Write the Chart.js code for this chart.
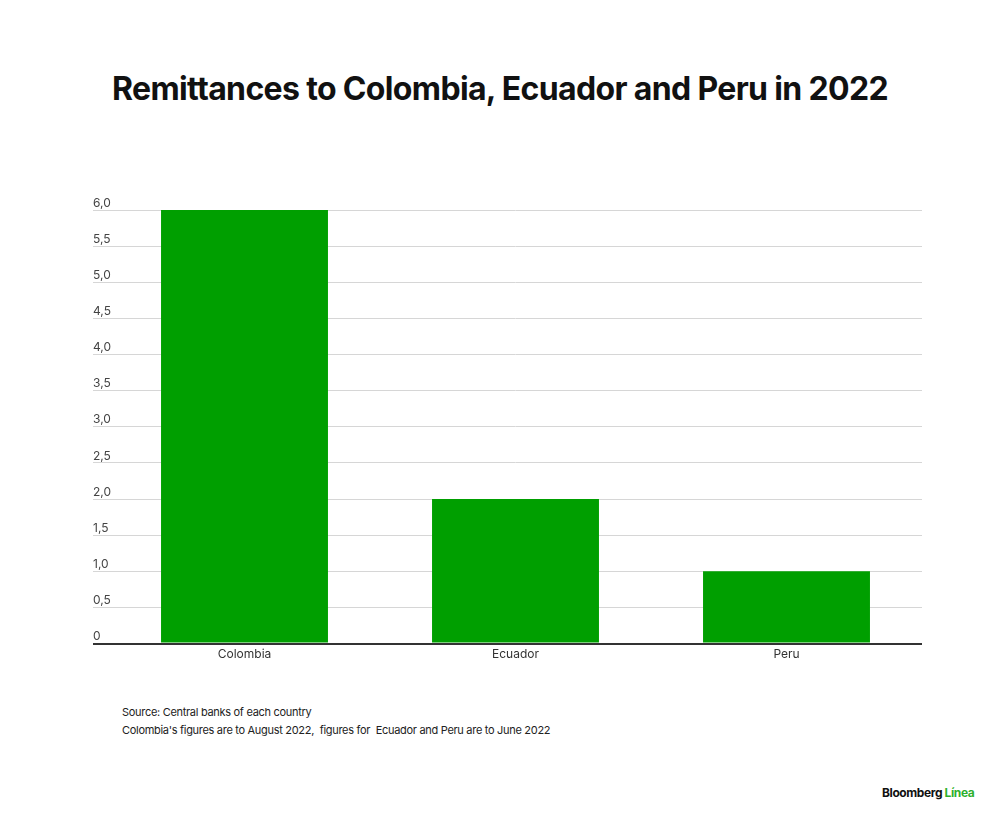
<!DOCTYPE html>
<html>
<head>
<meta charset="utf-8">
<script src="https://cdn.jsdelivr.net/npm/chart.js@4.4.1/dist/chart.umd.min.js"></script>
<style>
    html, body { margin: 0; padding: 0; background: #fff; }
    body { width: 1000px; height: 821px; position: relative; overflow: hidden; font-family: Inter, "Liberation Sans", sans-serif; }
    #titulo {
        position: absolute; left: 0; top: 69px; width: 1000px; text-align: center;
        font-size: 32px; font-weight: 700; color: #111; letter-spacing: -0.65px;
    }
    #caja { position: absolute; left: 0; top: 180px; width: 1000px; height: 500px; }
    #fuente {
        position: absolute; left: 122px; top: 703px; font-size: 11px; line-height: 18px;
        color: #222; letter-spacing: -0.3px;
    }
    #logo {
        position: absolute; left: 882px; top: 785px; font-size: 12px; font-weight: 700;
        color: #111; letter-spacing: -0.4px;
    }
    #logo span { color: #2db02d; }
</style>
</head>
<body>
<div id="titulo">Remittances to Colombia, Ecuador and Peru in 2022</div>
<div id="caja"><canvas id="graficaRemesas"></canvas></div>
<div id="fuente">
    Source: Central banks of each country<br>
    Colombia's figures are to August 2022,&nbsp; figures for&nbsp; Ecuador and Peru are to June 2022
</div>
<div id="logo">Bloomberg <span>Línea</span></div>

<script>
// ==============================
// DATOS
// ==============================
const paises = ['Colombia', 'Ecuador', 'Peru'];
const remesas = [6.0, 2.0, 1.0];
const etiquetasY = ['0', '0,5', '1,0', '1,5', '2,0', '2,5', '3,0', '3,5', '4,0', '4,5', '5,0', '5,5', '6,0'];

const ctx = document.getElementById('graficaRemesas').getContext('2d');

new Chart(ctx, {
    type: 'bar',
    data: {
        labels: paises,
        datasets: [{
            data: remesas,
            backgroundColor: '#009f00',
            borderWidth: 0,
            barPercentage: 0.616,
            categoryPercentage: 1
        }]
    },
    options: {
        responsive: true,
        maintainAspectRatio: false,
        animation: false,
        layout: {
            padding: { left: 93, right: 78, top: 30, bottom: 14 }
        },
        plugins: {
            legend: { display: false },
            tooltip: { enabled: false }
        },
        scales: {
            x: {
                grid: { display: false, drawTicks: false },
                border: { display: false },
                ticks: {
                    color: '#333',
                    padding: 4,
                    font: { family: 'Inter', size: 12 }
                }
            },
            y: {
                min: 0,
                max: 6,
                border: { display: false },
                grid: {
                    drawTicks: true,
                    tickLength: 16,
                    color: c => c.tick && c.tick.value === 0 ? '#333' : '#d6d6d6',
                    lineWidth: c => c.tick && c.tick.value === 0 ? 2 : 1
                },
                ticks: {
                    display: false,
                    stepSize: 0.5
                }
            }
        }
    },
    plugins: [{
        // etiquetas del eje Y encima de cada línea, alineadas a la izquierda
        afterDraw(chart) {
            const { ctx, chartArea, scales } = chart;
            const y = scales.y;
            ctx.save();
            ctx.font = '12px Inter';
            ctx.fillStyle = '#444';
            ctx.textAlign = 'left';
            ctx.textBaseline = 'bottom';
            y.ticks.forEach((t, i) => {
                ctx.fillText(etiquetasY[i], chartArea.left - 16, y.getPixelForValue(t.value) - 1);
            });
            ctx.restore();
        }
    }]
});
</script>
</body>
</html>
